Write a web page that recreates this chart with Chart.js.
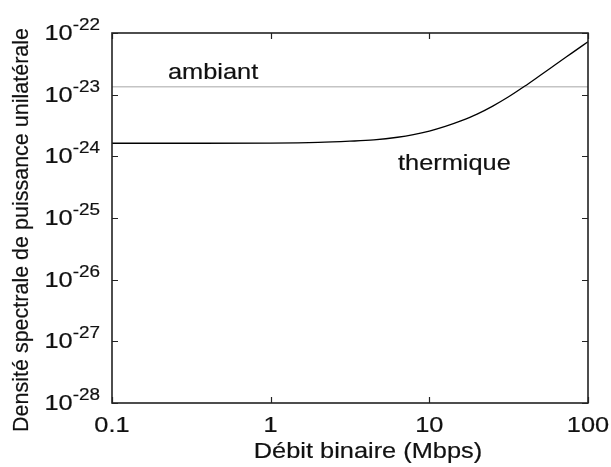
<!DOCTYPE html>
<html lang="fr">
<head>
<meta charset="utf-8">
<title>Densité spectrale de puissance</title>
<script src="https://cdn.jsdelivr.net/npm/chart.js@4/dist/chart.umd.min.js"></script>
<style>
  html, body { margin: 0; padding: 0; background: #fff; }
  #wrap { width: 611px; height: 467px; }
</style>
</head>
<body>
<div id="wrap"><canvas id="myChart" width="611" height="467"></canvas></div>
<script>
// débit binaire (Mbps) et densité spectrale du bruit thermique
const debits = [0.1, 0.316, 1, 2, 3.16, 4.47, 6.31, 7.94, 10, 12.6, 15.8, 20, 25.1, 31.6, 39.8, 50.1, 63.1, 79.4, 100];
const thermique = [1.63e-24, 1.63e-24, 1.64e-24, 1.68e-24, 1.76e-24, 1.85e-24, 2.04e-24, 2.25e-24,
                   2.57e-24, 3.06e-24, 3.76e-24, 4.84e-24, 6.53e-24, 9.23e-24, 1.365e-23, 2.065e-23,
                   3.14e-23, 4.76e-23, 7.23e-23];
// niveau du bruit ambiant (constant)
const ambiantDebits = [0.1, 100];
const ambiant = [1.35e-23, 1.35e-23];

// graduations
const xTicks = [0.1, 1, 10, 100];
const xTickLabels = ['0.1', '1', '10', '100'];
const yTicks = [1e-28, 1e-27, 1e-26, 1e-25, 1e-24, 1e-23, 1e-22];
const yExponents = ['-28', '-27', '-26', '-25', '-24', '-23', '-22'];

const FONT = '"Liberation Sans", Arial, Helvetica, sans-serif';
const INK = '#111';
const STRETCH = 1.18; // texte horizontal un peu élargi

function drawText(ctx, str, x, y, align, size, stretch) {
    ctx.save();
    ctx.font = size + 'px ' + FONT;
    ctx.fillStyle = INK;
    ctx.strokeStyle = INK;
    ctx.lineWidth = 0.2;
    ctx.textAlign = align;
    ctx.textBaseline = 'alphabetic';
    ctx.translate(x, y);
    ctx.scale(stretch, 1);
    ctx.fillText(str, 0, 0);
    ctx.strokeText(str, 0, 0);
    ctx.restore();
}

function textWidth(ctx, str, size, stretch) {
    ctx.save();
    ctx.font = size + 'px ' + FONT;
    const w = ctx.measureText(str).width * stretch;
    ctx.restore();
    return w;
}

// cadre, graduations intérieures et textes
const axesBox = {
    id: 'axesBox',
    afterDraw(chart) {
        const { ctx, chartArea: a, scales } = chart;
        const xs = scales.x, ys = scales.y;
        const tick = 6;

        ctx.save();
        ctx.strokeStyle = '#222';
        ctx.lineWidth = 1.6;
        ctx.strokeRect(a.left, a.top, a.right - a.left, a.bottom - a.top);

        ctx.lineWidth = 1.2;
        ctx.beginPath();
        xTicks.forEach(v => {
            const px = Math.round(xs.getPixelForValue(v)) + 0.5;
            ctx.moveTo(px, a.bottom); ctx.lineTo(px, a.bottom - tick);
            ctx.moveTo(px, a.top); ctx.lineTo(px, a.top + tick);
        });
        yTicks.forEach(v => {
            const py = Math.round(ys.getPixelForValue(v)) + 0.5;
            ctx.moveTo(a.left, py); ctx.lineTo(a.left + tick, py);
            ctx.moveTo(a.right, py); ctx.lineTo(a.right - tick, py);
        });
        ctx.stroke();
        ctx.restore();

        // étiquettes de l'axe x
        xTicks.forEach((v, i) => {
            drawText(ctx, xTickLabels[i], xs.getPixelForValue(v), 431.5, 'center', 21.5, STRETCH);
        });

        // étiquettes de l'axe y : 10 avec exposant
        const right = a.left - 12;
        yTicks.forEach((v, i) => {
            const py = ys.getPixelForValue(v);
            const ew = textWidth(ctx, yExponents[i], 16, STRETCH);
            drawText(ctx, yExponents[i], right - ew, py - 3, 'left', 16, STRETCH);
            drawText(ctx, '10', right - ew, py + 7, 'right', 21.5, STRETCH);
        });

        // titres des axes
        drawText(ctx, 'Débit binaire (Mbps)', 368, 458, 'center', 21.5, STRETCH);
        ctx.save();
        ctx.translate(28, 230);
        ctx.rotate(-Math.PI / 2);
        ctx.font = '21.5px ' + FONT;
        ctx.fillStyle = INK;
        ctx.strokeStyle = INK;
        ctx.lineWidth = 0.2;
        ctx.textAlign = 'center';
        ctx.textBaseline = 'alphabetic';
        ctx.fillText('Densité spectrale de puissance unilatérale', 0, 0);
        ctx.strokeText('Densité spectrale de puissance unilatérale', 0, 0);
        ctx.restore();

        // légendes des courbes
        drawText(ctx, 'ambiant', 168, 78.5, 'left', 21.5, STRETCH);
        drawText(ctx, 'thermique', 398, 169.5, 'left', 21.5, STRETCH);
    }
};

const ctx = document.getElementById('myChart').getContext('2d');
const chart = new Chart(ctx, {
    type: 'line',
    data: {
        datasets: [{
            label: 'thermique',
            data: debits.map((d, i) => ({ x: d, y: thermique[i] })),
            borderColor: '#000',
            borderWidth: 1.3,
            pointRadius: 0,
            cubicInterpolationMode: 'monotone',
            fill: false
        }, {
            label: 'ambiant',
            data: ambiantDebits.map((d, i) => ({ x: d, y: ambiant[i] })),
            borderColor: '#c4c4c4',
            borderWidth: 1.5,
            pointRadius: 0,
            fill: false
        }]
    },
    options: {
        responsive: false,
        animation: false,
        layout: { padding: { left: 112, top: 33, right: 23, bottom: 64 } },
        plugins: { legend: { display: false }, tooltip: { enabled: false } },
        scales: {
            x: { type: 'logarithmic', min: 0.1, max: 100, display: false },
            y: { type: 'logarithmic', min: 1e-28, max: 1e-22, display: false }
        }
    },
    plugins: [axesBox]
});
</script>
</body>
</html>
